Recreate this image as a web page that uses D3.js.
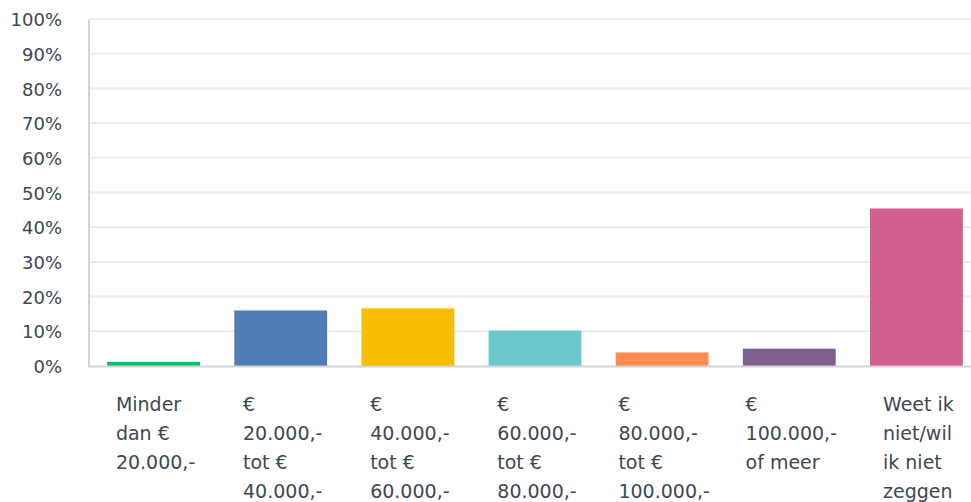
<!DOCTYPE html>
<html>
<head>
<meta charset="utf-8">
<script src="https://cdn.jsdelivr.net/npm/d3@7"></script>
<style>
  body { margin: 0; background: #fff; }
  text { font-family: "DejaVu Sans", sans-serif; fill: #3d4852; }
</style>
</head>
<body>
<script>
// Data (category labels split into the lines shown under each bar)
var categories = [
  ["Minder", "dan €", "20.000,-"],
  ["€", "20.000,-", "tot €", "40.000,-"],
  ["€", "40.000,-", "tot €", "60.000,-"],
  ["€", "60.000,-", "tot €", "80.000,-"],
  ["€", "80.000,-", "tot €", "100.000,-"],
  ["€", "100.000,-", "of meer"],
  ["Weet ik", "niet/wil", "ik niet", "zeggen"]
];
var values = [1.2, 16.0, 16.6, 10.2, 3.9, 5.0, 45.4];
var colors = ["#00bf6f", "#507cb6", "#f9be00", "#6bc8cd", "#ff8b4f", "#7f5f90", "#d25f90"];
var yTicks = [0, 10, 20, 30, 40, 50, 60, 70, 80, 90, 100];

var keys = categories.map(function(d){ return d.join(" "); });

//Width and height
var w = 971, h = 502;

var svg = d3.select("body")
  .append("svg")
  .attr("width", w)
  .attr("height", h);

var x = d3.scaleBand()
  .domain(keys)
  .range([90, 980])
  .paddingInner(0.27)
  .paddingOuter(0.135);

var y = d3.scaleLinear()
  .domain([0, 100])
  .range([366, 19]);

// Gridlines
svg.append("g").selectAll("line")
  .data(yTicks.filter(function(d){ return d > 0; }))
  .enter()
  .append("line")
  .attr("x1", 89)
  .attr("x2", w)
  .attr("y1", function(d){ return y(d); })
  .attr("y2", function(d){ return y(d); })
  .style("stroke", "#ececec")
  .style("stroke-width", 2);

// Y axis labels
var yAxis = d3.axisLeft(y)
  .tickValues(yTicks)
  .tickSize(0)
  .tickPadding(0)
  .tickFormat(function(d){ return d + "%"; });

var gy = svg.append("g")
  .attr("transform", "translate(62,0)")
  .call(yAxis);
gy.select(".domain").remove();
gy.selectAll("text")
  .style("font-family", "DejaVu Sans, sans-serif")
  .style("font-size", "18px")
  .style("fill", "#3d4852")
  .attr("dy", "0.37em");

// Bars
svg.append("g").selectAll("rect")
  .data(values)
  .enter()
  .append("rect")
  .attr("x", function(d, i){ return x(keys[i]); })
  .attr("y", function(d){ return y(d); })
  .attr("width", x.bandwidth())
  .attr("height", function(d){ return y(0) - y(d); })
  .style("fill", function(d, i){ return colors[i]; });

// Axis lines
svg.append("line")
  .attr("x1", 89).attr("x2", 89)
  .attr("y1", 20).attr("y2", 367)
  .style("stroke", "#d3d3d3")
  .style("stroke-width", 2);
svg.append("line")
  .attr("x1", 88).attr("x2", w)
  .attr("y1", 366.5).attr("y2", 366.5)
  .style("stroke", "#d3d3d3")
  .style("stroke-width", 2);

// Category labels: left aligned block, centred on the bar by its widest line
var labels = svg.append("g");
categories.forEach(function(lines, i){
  var t = labels.append("text")
    .style("font-size", "19px");
  var widest = 0;
  lines.forEach(function(l){
    var probe = t.append("tspan").text(l);
    widest = Math.max(widest, probe.node().getComputedTextLength());
    probe.remove();
  });
  var cx = x(keys[i]) + x.bandwidth() / 2 + 2;
  var left = cx - widest / 2;
  lines.forEach(function(l, j){
    t.append("tspan")
      .attr("x", left)
      .attr("y", 411 + j * 29)
      .text(l);
  });
});
</script>
</body>
</html>
